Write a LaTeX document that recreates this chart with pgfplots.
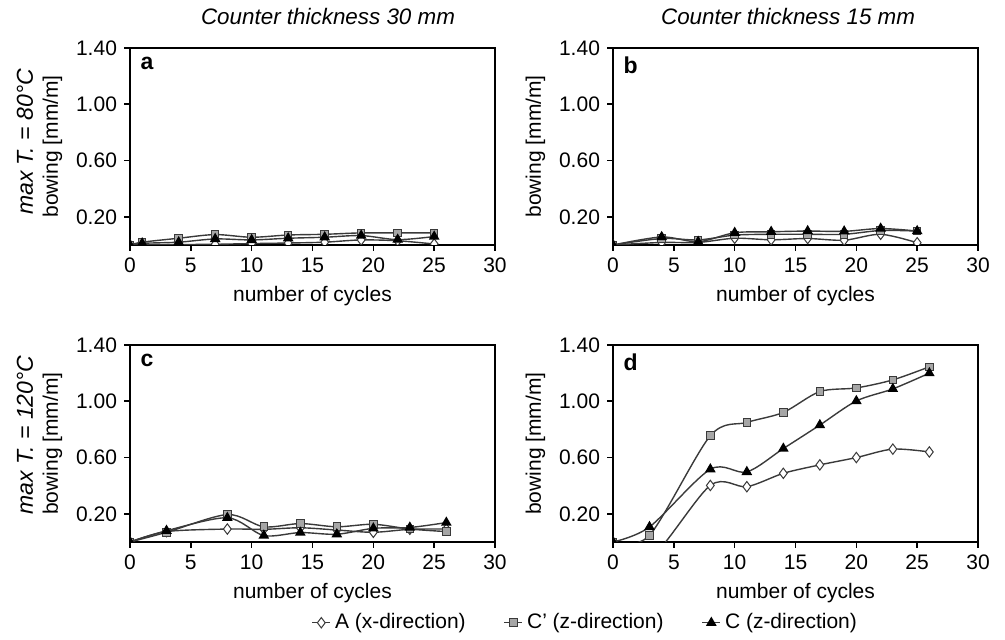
\documentclass[border=0pt]{standalone}
\usepackage{fontspec}
\setmainfont{Liberation Sans}
\usepackage{pgfplots}
\pgfplotsset{compat=1.18}
\definecolor{ln}{HTML}{3A3A3A}
\definecolor{sq}{HTML}{A6A6A6}
\tikzset{letter/.style={font=\bfseries\fontsize{11.5}{12}\selectfont, anchor=north west}}
\pgfplotsset{
  panel/.style={
    scale only axis, width=182.5pt, height=98.5pt,
    xmin=0, xmax=30, ymin=0, ymax=1.4,
    xtick={0,5,...,30}, ytick={0.2,0.6,1.0,1.4},
    yticklabel style={/pgf/number format/.cd,fixed,fixed zerofill,precision=2},
    /pgf/number format/assume math mode=true,
    tick align=outside, xtick pos=bottom, ytick pos=left,
    major tick length=3pt,
    axis line style={line width=0.9pt, black},
    tick style={line width=0.8pt, black},
    ticklabel style={font=\fontsize{10.5}{12}\selectfont},
    xlabel={number of cycles}, ylabel={bowing [mm/m]},
    label style={font=\fontsize{10.5}{12}\selectfont},
    clip marker paths=true,
  },
  serA/.style={ln, line width=0.7pt, smooth, mark=diamond*, mark size=2.6pt,
    mark options={fill=white, draw=ln, solid, line width=0.5pt}},
  serB/.style={ln, line width=0.7pt, smooth, mark=square*, mark size=1.9pt,
    mark options={fill=sq, draw=ln, solid, line width=0.5pt}},
  serC/.style={ln, line width=0.7pt, smooth, mark=triangle*, mark size=2.4pt,
    mark options={fill=black, draw=black, solid}},
}
\begin{document}
\begin{tikzpicture}
\path (0,0) rectangle (502.5pt,318pt);
% panel a
\begin{axis}[panel, at={(65pt,195.5pt)}, anchor=south west]
\addplot[serA] coordinates {(0,0)(1,0.0)(4,0.003)(7,0.005)(10,0.01)(13,0.014)(16,0.02)(19,0.036)(22,0.03)(25,0.007)};
\addplot[serB] coordinates {(0,0)(1,0.02)(4,0.048)(7,0.074)(10,0.055)(13,0.071)(16,0.076)(19,0.086)(22,0.086)(25,0.086)};
\addplot[serC] coordinates {(0,0)(1,0.012)(4,0.02)(7,0.043)(10,0.036)(13,0.048)(16,0.055)(19,0.067)(22,0.038)(25,0.06)};
\node[letter] at (rel axis cs:0.01,0.99) {a};
\end{axis}
% panel b
\begin{axis}[panel, at={(306.5pt,195.5pt)}, anchor=south west]
\addplot[serA] coordinates {(0,0)(4,0.018)(7,0.018)(10,0.048)(13,0.037)(16,0.046)(19,0.034)(22,0.076)(25,0.016)};
\addplot[serB] coordinates {(0,0)(4,0.046)(7,0.036)(10,0.07)(13,0.076)(16,0.076)(19,0.076)(22,0.103)(25,0.099)};
\addplot[serC] coordinates {(0,0)(4,0.057)(7,0.023)(10,0.087)(13,0.094)(16,0.099)(19,0.097)(22,0.117)(25,0.099)};
\node[letter] at (rel axis cs:0.01,0.99) {b};
\end{axis}
% panel c
\begin{axis}[panel, at={(65pt,47pt)}, anchor=south west,
  legend columns=3,
  legend style={draw=none, fill=none, at={(1.25,-0.41)}, anchor=center,
    font=\fontsize{10.5}{12}\selectfont,
    /tikz/every even column/.append style={column sep=17pt}},
  legend image code/.code={\draw[#1, mark repeat=2, mark phase=2] plot coordinates {(0pt,0pt) (4.5pt,0pt) (9pt,0pt)};}]
\addplot[serA] coordinates {(0,0)(3,0.074)(8,0.092)(11,0.09)(14,0.101)(17,0.085)(20,0.069)(23,0.09)(26,0.092)};
\addlegendentry{A (x-direction)}
\addplot[serB] coordinates {(0,0)(3,0.069)(8,0.195)(11,0.108)(14,0.131)(17,0.108)(20,0.126)(23,0.092)(26,0.074)};
\addlegendentry{C' (z-direction)}
\addplot[serC] coordinates {(0,0)(3,0.08)(8,0.172)(11,0.046)(14,0.067)(17,0.055)(20,0.097)(23,0.103)(26,0.138)};
\addlegendentry{C (z-direction)}
\node[letter] at (rel axis cs:0.01,0.99) {c};
\end{axis}
% panel d
\begin{axis}[panel, at={(306.5pt,47pt)}, anchor=south west]
\addplot[serA] coordinates {(0,0)(3,-0.12)(8,0.402)(11,0.393)(14,0.488)(17,0.548)(20,0.60)(23,0.66)(26,0.64)};
\addplot[serB] coordinates {(0,0)(3,0.048)(8,0.755)(11,0.85)(14,0.921)(17,1.069)(20,1.095)(23,1.152)(26,1.245)};
\addplot[serC] coordinates {(0,0)(3,0.107)(8,0.517)(11,0.498)(14,0.664)(17,0.831)(20,1.002)(23,1.088)(26,1.20)};
\node[letter] at (rel axis cs:0.01,0.99) {d};
\end{axis}
% titles
\node[anchor=west, font=\itshape\fontsize{11.2}{13}\selectfont] at (97pt,309.5pt) {Counter thickness 30 mm};
\node[anchor=west, font=\itshape\fontsize{11.2}{13}\selectfont] at (327pt,309.5pt) {Counter thickness 15 mm};
\node[rotate=90, font=\itshape\fontsize{11.5}{12}\selectfont] at (12.5pt,247pt) {max T. = 80°C};
\node[rotate=90, font=\itshape\fontsize{11.5}{12}\selectfont] at (12.5pt,100.5pt) {max T. = 120°C};
\end{tikzpicture}
\end{document}
